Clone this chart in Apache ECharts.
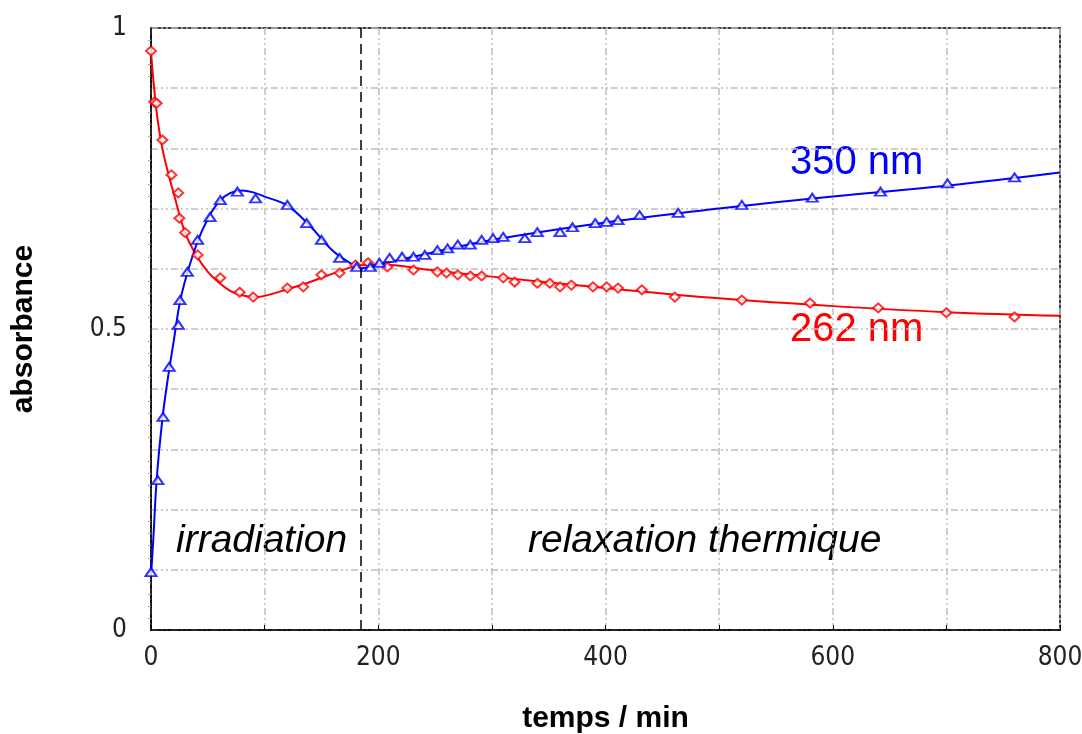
<!DOCTYPE html>
<html>
<head>
<meta charset="utf-8">
<script src="https://cdn.jsdelivr.net/npm/echarts@6/dist/echarts.min.js"></script>
<style>
html,body{margin:0;padding:0;background:#fff;}
#chart{width:1082px;height:734px;}
</style>
</head>
<body>
<div id="chart"></div>
<script>
// ---- data ----
const redTimes = [0,3,5,10,18,24,25,30,41,61,78,90,120,134,150,166,180,191,208,231,252,260,270,281,291,310,320,340,351,360,370,389,401,411,432,461,520,580,640,700,760];
const redValues = [0.962,0.877,0.875,0.814,0.756,0.726,0.684,0.66,0.623,0.585,0.561,0.553,0.568,0.570,0.59,0.593,0.606,0.61,0.603,0.598,0.595,0.593,0.59,0.588,0.588,0.585,0.578,0.576,0.576,0.57,0.573,0.57,0.57,0.568,0.565,0.553,0.548,0.543,0.535,0.527,0.52];
const blueTimes = [0,6,10.6,16,24,25.5,32,41,52,61,76,92,120,137,150,166,181,193,201,210,221,231,241,252,261,270,281,291,301,310,329,340,360,371,391,401,411,430,464,520,582,642,701,760];
const blueValues = [0.096,0.249,0.354,0.437,0.507,0.548,0.595,0.648,0.686,0.714,0.728,0.717,0.706,0.676,0.648,0.618,0.603,0.603,0.61,0.618,0.62,0.62,0.623,0.631,0.634,0.64,0.64,0.648,0.651,0.653,0.651,0.661,0.661,0.669,0.676,0.678,0.681,0.689,0.693,0.706,0.718,0.728,0.742,0.752];
const redFitTimes = [0,5,10,15,20,30,40,50,60,70,80,90,100,120,140,160,185,200,250,300,400,500,600,700,800];
const redFitValues = [0.96,0.86,0.80,0.76,0.725,0.66,0.622,0.595,0.577,0.563,0.556,0.553,0.555,0.566,0.578,0.592,0.606,0.607,0.597,0.587,0.568,0.551,0.538,0.528,0.522];
const blueFitTimes = [0,2,5,10,15,20,25,30,40,50,60,70,80,90,100,120,140,160,175,185,200,250,300,400,500,600,700,800];
const blueFitValues = [0.09,0.15,0.25,0.35,0.42,0.48,0.54,0.58,0.64,0.683,0.712,0.726,0.73,0.727,0.72,0.705,0.671,0.630,0.610,0.601,0.607,0.628,0.648,0.677,0.700,0.720,0.738,0.76];
const switchTime = 185;
const xTicks = [0,200,400,600,800];
const yTicks = [0,0.5,1];
const texts = {blue:'350 nm', red:'262 nm', phase1:'irradiation', phase2:'relaxation thermique', xName:'temps / min', yName:'absorbance'};

const zip = (a,b)=>a.map((v,i)=>[v,b[i]]);
const gridLine = {color:'#bdbdbd', width:1.5, type:[7,3,2,3,2,3]};
const narrow = '"Liberation Sans Narrow","DejaVu Sans Condensed","Liberation Sans"';
const chart = echarts.init(document.getElementById('chart'), null, {renderer:'canvas'});
chart.setOption({
  animation:false,
  backgroundColor:'#fff',
  grid:{left:151,right:22,top:28,bottom:104,containLabel:false,outerBoundsMode:'none',
    show:true,borderColor:'#000',borderWidth:1.5,backgroundColor:'transparent'},
  xAxis:{type:'value',min:0,max:800,interval:100,
    name:texts.xName,nameLocation:'middle',nameGap:74,
    nameTextStyle:{fontFamily:'Liberation Sans',fontWeight:'bold',fontSize:30,color:'#000'},
    axisLine:{show:true,lineStyle:{color:'#000',width:1.5}},
    axisTick:{show:true,inside:true,length:5,lineStyle:{color:'#000'}},
    axisLabel:{margin:15,fontFamily:narrow,fontSize:26,color:'#222',
      formatter:v=>xTicks.includes(v)?String(v):''},
    splitLine:{show:true,lineStyle:gridLine}},
  yAxis:{type:'value',min:0,max:1,interval:0.1,
    name:texts.yName,nameLocation:'middle',nameGap:112,nameRotate:90,
    nameTextStyle:{fontFamily:'Liberation Sans',fontWeight:'bold',fontSize:30,color:'#000'},
    axisLine:{show:true,lineStyle:{color:'#000',width:1.5}},
    axisTick:{show:false},
    minorTick:{show:true,splitNumber:5,length:3,lineStyle:{color:'#aaa'}},
    axisLabel:{margin:24,fontFamily:narrow,fontSize:26,color:'#222',
      formatter:v=>yTicks.some(t=>Math.abs(t-v)<1e-6)?(Math.round(v*10)/10).toString():''},
    splitLine:{show:true,lineStyle:gridLine}},
  series:[
    {type:'line',name:'262 fit',data:zip(redFitTimes,redFitValues),smooth:0.4,showSymbol:false,
      lineStyle:{color:'#ff0000',width:2},z:3,
      markLine:{silent:true,symbol:'none',label:{show:false},
        lineStyle:{color:'#000',width:1.5,type:[10,6]},data:[{xAxis:switchTime}]}},
    {type:'line',name:'350 fit',data:zip(blueFitTimes,blueFitValues),smooth:0.4,showSymbol:false,
      lineStyle:{color:'#0000ff',width:2},z:3},
    {type:'scatter',name:'262 nm',data:zip(redTimes,redValues),symbol:'emptyDiamond',symbolSize:[10,9],
      itemStyle:{color:'#ff0000',borderWidth:1.3},z:4},
    {type:'scatter',name:'350 nm',data:zip(blueTimes,blueValues),symbol:'emptyTriangle',symbolSize:[11,8],
      itemStyle:{color:'#0000ff',borderWidth:1.3},z:4}
  ],
  graphic:[
    {type:'text',left:790,top:143,style:{text:texts.blue,fill:'#0000ff',font:'40px "Liberation Sans"'}},
    {type:'text',left:790,top:310,style:{text:texts.red,fill:'#ff0000',font:'40px "Liberation Sans"'}},
    {type:'text',left:176,top:522,style:{text:texts.phase1,fill:'#000',font:'italic 39px "Liberation Sans"'}},
    {type:'text',left:528,top:522,style:{text:texts.phase2,fill:'#000',font:'italic 39px "Liberation Sans"'}}
  ]
});
</script>
</body>
</html>
